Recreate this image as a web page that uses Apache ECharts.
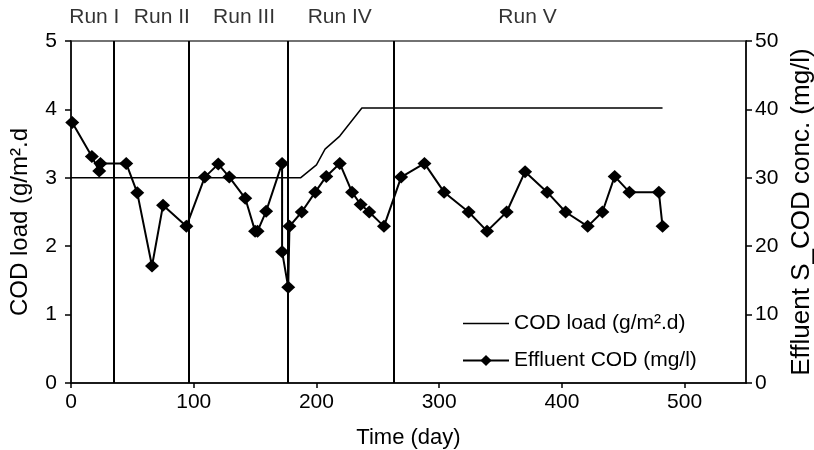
<!DOCTYPE html>
<html>
<head>
<meta charset="utf-8">
<title>COD load and effluent COD</title>
<script src="https://cdn.jsdelivr.net/npm/echarts@6/dist/echarts.min.js"></script>
<style>
html, body { margin: 0; padding: 0; background: #fff; }
#main { width: 814px; height: 450px; }
</style>
</head>
<body>
<div id="main"></div>
<script>
// COD load (g/m2.d), [day, value]
var codLoad = [[0, 3], [187, 3], [200, 3.19], [207, 3.42], [219, 3.61], [237, 4.02], [482, 4.02]];

// effluent COD (mg/l), [day, value]
var effluent = [
    [1, 38.1], [17, 33.1], [23, 31.0], [24, 32.1], [45, 32.1], [54, 27.8], [66, 17.1],
    [75, 26.0], [94, 22.9], [109, 30.1], [120, 32.0], [129, 30.1], [142, 27.0], [150, 22.2],
    [152, 22.2], [159, 25.1], [172, 32.1], [172, 19.2], [177, 14.0], [178, 22.9], [188, 25.0],
    [199, 27.9], [208, 30.2], [219, 32.1], [229, 27.9], [236, 26.1], [243, 25.0], [255, 22.9],
    [269, 30.1], [288, 32.1], [304, 27.9], [324, 25.0], [339, 22.2], [355, 25.0], [370, 30.9],
    [388, 27.9], [403, 25.0], [421, 22.9], [433, 25.0], [443, 30.2], [455, 27.9], [479, 27.9],
    [482, 22.9]
];

// run boundaries (day) and run labels
var runBounds = [35, 96, 177, 263];
var runNames = ['Run I', 'Run II', 'Run III', 'Run IV', 'Run V'];
var runLabelDays = [19, 74, 141, 219, 372];

var font = 'Liberation Sans';
var fs = 21;

var chart = echarts.init(document.getElementById('main'));

var option = {
    animation: false,
    textStyle: { fontFamily: font, color: '#000' },
    grid: {
        left: 71, right: 68, top: 41, bottom: 67,
        outerBoundsMode: 'none',
        show: true, borderColor: '#444', borderWidth: 1.5
    },
    legend: {
        orient: 'vertical',
        left: 457, top: 308,
        itemWidth: 46, itemHeight: 14, itemGap: 16,
        textStyle: { fontFamily: font, fontSize: fs, color: '#000' },
        data: [
            { name: 'COD load (g/m².d)', icon: 'path://M0,6 L46,6 L46,7.5 L0,7.5 Z' },
            { name: 'Effluent COD (mg/l)' }
        ]
    },
    xAxis: {
        type: 'value', min: 0, max: 550, interval: 100,
        name: 'Time (day)', nameLocation: 'middle', nameGap: 44,
        nameTextStyle: { fontSize: 22, color: '#000' },
        axisLine: { lineStyle: { color: '#000', width: 1.5 } },
        axisTick: { length: 5, lineStyle: { color: '#000', width: 1.5 } },
        axisLabel: { fontSize: fs, color: '#000', margin: 9, showMaxLabel: false },
        splitLine: { show: false }
    },
    yAxis: [{
        type: 'value', min: 0, max: 5, interval: 1, position: 'left',
        name: 'COD load (g/m².d', nameLocation: 'middle', nameGap: 39, nameRotate: 90,
        nameTextStyle: { fontSize: 24, color: '#000', padding: [0, 20, 0, 0] },
        axisLine: { show: true, lineStyle: { color: '#000', width: 1.5 } },
        axisTick: { show: true, length: 6, lineStyle: { color: '#000', width: 1.5 } },
        axisLabel: { fontSize: fs, color: '#000', margin: 14 },
        splitLine: { show: false }
    }, {
        type: 'value', min: 0, max: 50, interval: 10, position: 'right',
        name: 'Effluent S_COD conc. (mg/l)', nameLocation: 'middle', nameGap: 42, nameRotate: 90,
        nameTextStyle: { fontSize: 26, color: '#000' },
        axisLine: { show: true, lineStyle: { color: '#000', width: 1.5 } },
        axisTick: { show: true, length: 6, lineStyle: { color: '#000', width: 1.5 } },
        axisLabel: { fontSize: fs, color: '#000', margin: 9 },
        splitLine: { show: false }
    }],
    series: [{
        name: 'COD load (g/m².d)',
        type: 'line',
        yAxisIndex: 0,
        data: codLoad,
        showSymbol: false,
        symbol: 'none',
        lineStyle: { color: '#000', width: 1.5 },
        itemStyle: { color: '#000' },
        markLine: {
            silent: true,
            symbol: 'none',
            label: { show: false },
            lineStyle: { color: '#000', width: 2, type: 'solid' },
            data: runBounds.map(function (d) { return { xAxis: d }; })
        }
    }, {
        name: 'Effluent COD (mg/l)',
        type: 'line',
        yAxisIndex: 1,
        data: effluent,
        symbol: 'diamond',
        symbolSize: [14, 13],
        lineStyle: { color: '#000', width: 2 },
        itemStyle: { color: '#000' }
    }, {
        name: 'runs',
        type: 'scatter',
        yAxisIndex: 0,
        symbolSize: 0,
        silent: true,
        data: runLabelDays.map(function (d, i) { return { value: [d, 5], name: runNames[i] }; }),
        label: {
            show: true, position: 'top', distance: 13,
            formatter: function (p) { return p.name; },
            fontFamily: font, fontSize: fs, color: '#000'
        }
    }]
};

chart.setOption(option);
</script>
</body>
</html>
